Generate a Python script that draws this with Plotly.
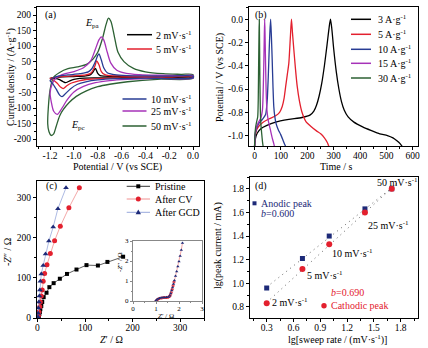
import plotly.graph_objects as go
import numpy as np

W, H = 428, 348
FONT = "Liberation Serif"

# ---------------- (a) cyclic voltammetry ----------------
CV2_V = [-1.20, -1.15, -1.10, -1.00, -0.90, -0.86, -0.84, -0.82, -0.80, -0.78, -0.74, -0.60, -0.40, -0.20, 0.00,
         0.00, -0.40, -0.80, -0.95, -1.00, -1.03, -1.05, -1.07, -1.09, -1.12, -1.16, -1.20]
CV2_I = [-3, -1, 1, 2, 4, 8, 16, 28, 12, 5, 3, 2, 1.5, 1.2, 1,
         -1, -1.5, -2.5, -4, -7, -11, -15, -18, -15, -8, -4, -3]
CV5_V = [-1.20, -1.15, -1.10, -1.00, -0.90, -0.86, -0.84, -0.82, -0.81, -0.79, -0.77, -0.74, -0.70, -0.60, -0.40, -0.20, 0.00,
         0.00, -0.40, -0.70, -0.85, -0.95, -1.02, -1.06, -1.09, -1.11, -1.14, -1.17, -1.20]
CV5_I = [-5, -1, 2, 4, 7, 12, 22, 40, 52, 40, 18, 8, 5, 3.5, 2.5, 2, 2,
         -1.5, -2, -3, -6, -11, -19, -28, -37, -33, -20, -10, -5]
CV10_V = [-1.20, -1.17, -1.13, -1.05, -0.95, -0.88, -0.85, -0.82, -0.80, -0.79, -0.77, -0.75, -0.72, -0.66, -0.55, -0.40, -0.20, 0.00,
          0.00, -0.40, -0.65, -0.80, -0.90, -0.97, -1.03, -1.07, -1.10, -1.12, -1.15, -1.18, -1.20]
CV10_I = [-12, -2, 3, 7, 11, 17, 27, 50, 70, 75, 55, 30, 14, 8, 5, 4, 3, 3,
          -2, -3, -5, -9, -15, -23, -38, -53, -63, -58, -38, -20, -12]
CV25_V = [-1.20, -1.18, -1.15, -1.10, -1.00, -0.92, -0.86, -0.82, -0.79, -0.77, -0.75, -0.72, -0.69, -0.64, -0.56, -0.45, -0.30, -0.10, 0.00,
          0.00, -0.30, -0.55, -0.70, -0.82, -0.92, -1.00, -1.06, -1.10, -1.14, -1.17, -1.19, -1.20]
CV25_I = [-50, -20, -3, 8, 18, 30, 52, 90, 120, 130, 120, 80, 45, 22, 12, 8, 6, 5, 5,
          -3, -4, -7, -11, -18, -30, -48, -75, -100, -120, -110, -80, -50]
CV50_V = [-1.22, -1.20, -1.17, -1.12, -1.05, -0.97, -0.89, -0.84, -0.80, -0.76, -0.73, -0.71, -0.69, -0.66, -0.63, -0.58, -0.50, -0.40, -0.25, -0.10, 0.00,
          0.00, -0.30, -0.55, -0.70, -0.80, -0.90, -0.98, -1.04, -1.09, -1.12, -1.15, -1.17, -1.19, -1.21, -1.22]
CV50_I = [-150, -40, 0, 15, 27, 33, 42, 58, 80, 125, 170, 190, 180, 130, 80, 50, 28, 17, 11, 9, 8,
          -4, -7, -15, -23, -31, -45, -62, -82, -105, -125, -160, -183, -188, -175, -150]
CV_LABELS = ["2 mV·s<sup>-1</sup>", "5 mV·s<sup>-1</sup>", "10 mV·s<sup>-1</sup>",
             "25 mV·s<sup>-1</sup>", "50 mV·s<sup>-1</sup>"]
A_XTICKS = [-1.2, -1.0, -0.8, -0.6, -0.4, -0.2, 0.0]
A_XTEXT = ["-1.2", "-1.0", "-0.8", "-0.6", "-0.4", "-0.2", "0.0"]
A_YTICKS = [-200, -150, -100, -50, 0, 50, 100, 150, 200]
A_YTEXT = ["-200", "-150", "-100", "-50", "0", "50", "100", "150", "200"]

# ---------------- (b) galvanostatic charge/discharge ----------------
GCD3_T = [0, 3, 10, 25, 45, 80, 130, 180, 210, 225, 235, 245, 255, 265, 275, 283, 288, 293, 300, 310, 320, 330, 340,
          355, 377, 410, 441, 475, 504, 525, 540, 552, 562]
GCD3_V = [-1.10, -1.03, -0.98, -0.94, -0.915, -0.885, -0.862, -0.845, -0.825, -0.79, -0.74, -0.66, -0.55, -0.40, -0.22,
          -0.07, 0.00, -0.08, -0.25, -0.45, -0.60, -0.71, -0.78, -0.84, -0.885, -0.925, -0.955, -0.985, -1.00, -1.02,
          -1.045, -1.07, -1.10]
GCD5_T = [0, 3, 8, 16, 30, 54, 80, 95, 105, 112, 118, 124, 130, 136, 140, 144, 149, 155, 162, 170, 180, 195, 213,
          235, 251, 265, 276, 283]
GCD5_V = [-1.10, -1.0, -0.95, -0.92, -0.89, -0.858, -0.83, -0.80, -0.75, -0.68, -0.58, -0.48, -0.38, -0.15, 0.00,
          -0.12, -0.26, -0.42, -0.58, -0.70, -0.80, -0.88, -0.92, -0.96, -0.985, -1.02, -1.06, -1.10]
GCD10_T = [0, 2, 6, 15, 30, 42, 48, 52, 55, 58, 61, 64, 67, 70, 73, 77, 82, 90, 99, 108, 115, 119]
GCD10_V = [-1.10, -1.0, -0.95, -0.90, -0.86, -0.82, -0.70, -0.50, -0.30, -0.12, 0.00, -0.15, -0.35, -0.58, -0.75,
           -0.84, -0.90, -0.95, -0.99, -1.04, -1.08, -1.10]
GCD15_T = [0, 2, 6, 14, 24, 30, 33, 35, 37, 38.5, 40, 42, 44, 47, 52, 60, 67, 73, 76]
GCD15_V = [-1.10, -1.0, -0.94, -0.89, -0.85, -0.78, -0.60, -0.40, -0.15, 0.00, -0.15, -0.40, -0.62, -0.78, -0.87,
           -0.95, -1.02, -1.07, -1.10]
GCD30_T = [0, 1.5, 4, 8, 12, 14, 15.5, 17, 18, 19, 20.5, 22, 24, 27, 30, 33]
GCD30_V = [-1.10, -1.0, -0.93, -0.88, -0.84, -0.70, -0.40, -0.12, 0.00, -0.20, -0.55, -0.78, -0.90, -0.98, -1.05, -1.10]
GCD_LABELS = ["3 A·g<sup>-1</sup>", "5 A·g<sup>-1</sup>", "10 A·g<sup>-1</sup>",
              "15 A·g<sup>-1</sup>", "30 A·g<sup>-1</sup>"]
B_XTICKS = [0, 100, 200, 300, 400, 500, 600]
B_XTEXT = ["0", "100", "200", "300", "400", "500", "600"]
B_YTICKS = [-1.0, -0.8, -0.6, -0.4, -0.2, 0.0]
B_YTEXT = ["-1.0", "-0.8", "-0.6", "-0.4", "-0.2", "0.0"]

# ---------------- (c) Nyquist ----------------
PRIS_RE = [2, 3, 4, 5, 6, 8, 10, 13, 19, 25, 34, 47, 62, 82, 103, 127, 147, 180]
PRIS_IM = [2, 5, 10, 15, 22, 30, 40, 52, 63, 77, 87, 98, 110, 121, 132, 131, 140, 153]
CV_RE = [1, 2, 3, 5, 6, 8, 10, 12, 15, 20, 27, 36, 48, 66, 88]
CV_IM = [1, 6, 15, 28, 40, 55, 70, 92, 111, 133, 161, 193, 229, 275, 325]
GCD_RE = [1, 1.5, 2, 3, 4, 5, 6, 8, 12, 17, 24, 33, 43, 60]
GCD_IM = [3, 12, 25, 40, 55, 70, 92, 110, 131, 160, 192, 227, 273, 325]
EIS_LABELS = ["Pristine", "After CV", "After GCD"]
C_TICKS = [0, 100, 200, 300]
C_TEXT = ["0", "100", "200", "300"]
# inset (high-frequency region)
INS_CV_RE = [1.00, 1.06, 1.14, 1.24, 1.34, 1.44, 1.52, 1.58, 1.62, 1.66, 1.70, 1.74, 1.78]
INS_CV_IM = [0.00, 0.07, 0.12, 0.15, 0.17, 0.18, 0.19, 0.22, 0.30, 0.42, 0.58, 0.76, 0.95]
INS_GCD_RE = [0.98, 1.02, 1.08, 1.15, 1.22, 1.30, 1.38, 1.46, 1.54, 1.60, 1.64, 1.68, 1.72, 1.76, 1.80, 1.85,
              1.90, 1.95, 2.00, 2.05, 2.10, 2.15]
INS_GCD_IM = [0.00, 0.05, 0.10, 0.14, 0.16, 0.17, 0.18, 0.19, 0.20, 0.26, 0.38, 0.52, 0.68, 0.85, 1.02, 1.25,
              1.48, 1.72, 1.97, 2.25, 2.55, 2.90]
INS_TICKS = [0, 1, 2, 3]
INS_TEXT = ["0", "1", "2", "3"]

# ---------------- (d) b-value ----------------
LG_RATE = [0.30, 0.70, 1.00, 1.40, 1.70]
LG_IPA = [0.96, 1.21, 1.40, 1.63, 1.80]
LG_IPC = [0.83, 1.12, 1.33, 1.60, 1.80]
RATE_LABELS = ["2 mV·s<sup>-1</sup>", "5 mV·s<sup>-1</sup>", "10 mV·s<sup>-1</sup>",
               "25 mV·s<sup>-1</sup>", "50 mV·s<sup>-1</sup>"]
D_XTICKS = [0.3, 0.6, 0.9, 1.2, 1.5, 1.8]
D_XTEXT = ["0.3", "0.6", "0.9", "1.2", "1.5", "1.8"]
D_YTICKS = [0.8, 1.0, 1.2, 1.4, 1.6, 1.8]
D_YTEXT = ["0.8", "1.0", "1.2", "1.4", "1.6", "1.8"]

# ---------------- styling ----------------
C_BLACK = "#000000"
C_RED = "#e3202e"
C_BLUE = "#283c94"
C_PURPLE = "#a632b8"
C_GREEN = "#2c6133"
C_NAVY = "#1d2a78"


def px(x):
    return x / W


def py(y):
    return 1 - y / H


def axis(dom, rng, tv, tt, mdt, m0, anchor, fs=9.5, lc="black", tl=3, so=0):
    return dict(domain=dom, range=rng, anchor=anchor, tickmode="array", tickvals=tv, ticktext=tt,
                ticks="outside", ticklen=tl, tickwidth=1, tickcolor=lc, showline=True, linecolor=lc,
                linewidth=1, mirror=True, showgrid=False, zeroline=False, fixedrange=True, automargin=False,
                ticklabelstandoff=so,
                tickfont=dict(family=FONT, size=fs, color="black"),
                minor=dict(tickmode="linear", tick0=m0, dtick=mdt, ticks="outside", ticklen=max(tl - 1, 1),
                           tickwidth=1, tickcolor=lc, showgrid=False))


fig = go.Figure()

# (a)
cv_sets = [(CV50_V, CV50_I, C_GREEN), (CV2_V, CV2_I, C_BLACK), (CV5_V, CV5_I, C_RED),
           (CV25_V, CV25_I, C_PURPLE), (CV10_V, CV10_I, C_BLUE)]
for v, i, c in cv_sets:
    fig.add_trace(go.Scatter(x=v, y=i, mode="lines", line=dict(color=c, width=1.3, shape="spline", smoothing=0.8),
                             xaxis="x", yaxis="y", hoverinfo="skip"))

# (b)
gcd_sets = [(GCD3_T, GCD3_V, C_BLACK), (GCD5_T, GCD5_V, C_RED), (GCD10_T, GCD10_V, C_BLUE),
            (GCD15_T, GCD15_V, C_PURPLE), (GCD30_T, GCD30_V, C_GREEN)]
for t, v, c in gcd_sets:
    fig.add_trace(go.Scatter(x=t, y=v, mode="lines", line=dict(color=c, width=1.3, shape="spline", smoothing=0.6),
                             xaxis="x2", yaxis="y2", hoverinfo="skip"))

# (c)
fig.add_trace(go.Scatter(x=PRIS_RE, y=PRIS_IM, mode="lines+markers", line=dict(color="#333333", width=0.8),
                         marker=dict(symbol="square", size=4, color="black"), xaxis="x3", yaxis="y3"))
fig.add_trace(go.Scatter(x=CV_RE, y=CV_IM, mode="lines+markers", line=dict(color="#f09090", width=0.8),
                         marker=dict(symbol="circle", size=5, color=C_RED), xaxis="x3", yaxis="y3"))
fig.add_trace(go.Scatter(x=GCD_RE, y=GCD_IM, mode="lines+markers", line=dict(color="#98a8dc", width=0.8),
                         marker=dict(symbol="triangle-up", size=5, color=C_NAVY), xaxis="x3", yaxis="y3"))
# inset
fig.add_trace(go.Scatter(x=INS_CV_RE, y=INS_CV_IM, mode="lines+markers", line=dict(color="#f09090", width=0.8),
                         marker=dict(symbol="circle", size=3, color=C_RED), xaxis="x4", yaxis="y4"))
fig.add_trace(go.Scatter(x=INS_GCD_RE, y=INS_GCD_IM, mode="lines+markers", line=dict(color="#f09090", width=0.8),
                         marker=dict(symbol="triangle-up", size=3, color=C_NAVY), xaxis="x4", yaxis="y4"))

# (d)
for yv, c in [(LG_IPA, "#666666"), (LG_IPC, "#666666")]:
    b, a = np.polyfit(LG_RATE, yv, 1)
    xf = np.array([min(LG_RATE), max(LG_RATE) + 0.08])
    fig.add_trace(go.Scatter(x=xf, y=a + b * xf, mode="lines", line=dict(color=c, width=1, dash="1px,4px"),
                             xaxis="x5", yaxis="y5", hoverinfo="skip"))
fig.add_trace(go.Scatter(x=LG_RATE, y=LG_IPA, mode="markers", marker=dict(symbol="square", size=5, color=C_NAVY),
                         xaxis="x5", yaxis="y5"))
fig.add_trace(go.Scatter(x=LG_RATE, y=LG_IPC, mode="markers", marker=dict(symbol="circle", size=6, color=C_RED),
                         xaxis="x5", yaxis="y5"))

fig.update_layout(
    width=W, height=H, autosize=False, margin=dict(l=0, r=0, t=0, b=0, autoexpand=False),
    paper_bgcolor="white", plot_bgcolor="white", showlegend=False,
    font=dict(family=FONT, size=10, color="black"),
    xaxis=axis([px(37), px(199)], [-1.31, 0.05], A_XTICKS, A_XTEXT, 0.1, -1.3, "y", so=-2),
    yaxis=axis([py(146), py(7)], [-222, 226], A_YTICKS, A_YTEXT, 25, 0, "x"),
    xaxis2=axis([px(249), px(418)], [-21, 620], B_XTICKS, B_XTEXT, 50, 0, "y2", so=-2),
    yaxis2=axis([py(146), py(7)], [-1.09, 0.105], B_YTICKS, B_YTEXT, 0.1, 0, "x2"),
    xaxis3=axis([px(37), px(204)], [-1, 350], C_TICKS, C_TEXT, 50, 0, "y3", so=-2),
    yaxis3=axis([py(318), py(181)], [0, 342], C_TICKS, C_TEXT, 50, 0, "x3"),
    xaxis4=axis([px(133), px(202)], [0, 3], INS_TICKS, INS_TEXT, 0.5, 0, "y4", fs=7, lc="#888888", tl=2, so=-1),
    yaxis4=axis([py(301), py(241)], [0, 3], INS_TICKS, INS_TEXT, 0.5, 0, "x4", fs=7, lc="#888888", tl=2),
    xaxis5=axis([px(250), px(418)], [0.113, 1.994], D_XTICKS, D_XTEXT, 0.15, 0, "y5", so=-2),
    yaxis5=axis([py(318), py(177)], [0.706, 1.90], D_YTICKS, D_YTEXT, 0.1, 0, "x5"),
)


def note(text, x, y, xa="left", size=10, color="black", angle=0):
    fig.add_annotation(text=text, x=px(x), y=py(y), xref="paper", yref="paper", xanchor=xa, yanchor="middle",
                       showarrow=False, textangle=angle, borderpad=0,
                       font=dict(family=FONT, size=size, color=color))


def seg(x0, x1, y, color, width=1.5):
    fig.add_shape(type="line", xref="paper", yref="paper", x0=px(x0), x1=px(x1), y0=py(y), y1=py(y),
                  line=dict(color=color, width=width))


# ---- panel (a) text ----
note("(a)", 44, 15)
note("<i>E</i><sub>pa</sub>", 84, 23)
note("<i>E</i><sub>pc</sub>", 70, 126)
note("Potential / V (vs SCE)", 118, 167, xa="center")
note("Current density / (A·g<sup>-1</sup>)", 10, 77, xa="center", angle=-90)
for lab, c, y in [(CV_LABELS[0], C_BLACK, 34.7), (CV_LABELS[1], C_RED, 49)]:
    seg(127, 152, y, c)
    note(lab, 155, y)
for lab, c, y in [(CV_LABELS[2], C_BLUE, 99), (CV_LABELS[3], C_PURPLE, 111), (CV_LABELS[4], C_GREEN, 126)]:
    seg(122.5, 146.5, y, c)
    note(lab, 150, y)

# ---- panel (b) text ----
note("(b)", 254, 15)
note("Time / s", 336, 167, xa="center")
note("Potential / V (vs SCE)", 220, 77, xa="center", angle=-90)
for lab, c, y in zip(GCD_LABELS, [C_BLACK, C_RED, C_BLUE, C_PURPLE, C_GREEN], [19.3, 34.3, 49.3, 63.3, 78]):
    seg(351, 371, y, c)
    note(lab, 377, y)

# ---- panel (c) text ----
note("(c)", 45, 186)
note("<i>Z</i>′ / Ω", 112, 339, xa="center")
note("-<i>Z</i>″ / Ω", 7, 252, xa="center", angle=-90)
note("<i>Z</i>′ / Ω", 166, 315.5, xa="center", size=7)
note("-<i>Z</i>″ / Ω", 120, 262, xa="center", size=7, angle=-90)
leg_c = [(EIS_LABELS[0], "#333333", "black", "sq", 186.3),
         (EIS_LABELS[1], "#f09090", C_RED, "ci", 199),
         (EIS_LABELS[2], "#98a8dc", C_NAVY, "tr", 212.3)]
for lab, lc, mc, sym, y in leg_c:
    seg(126.7, 150, y, lc, 1)
    cx = 138.3
    if sym == "sq":
        fig.add_shape(type="rect", xref="paper", yref="paper", x0=px(cx - 2), x1=px(cx + 2), y0=py(y + 2),
                      y1=py(y - 2), fillcolor=mc, line=dict(width=0))
    elif sym == "ci":
        fig.add_shape(type="circle", xref="paper", yref="paper", x0=px(cx - 2.5), x1=px(cx + 2.5), y0=py(y + 2.5),
                      y1=py(y - 2.5), fillcolor=mc, line=dict(width=0))
    else:
        fig.add_shape(type="path", xref="paper", yref="paper",
                      path=f"M {px(cx-2.7)},{py(y+2)} L {px(cx+2.7)},{py(y+2)} L {px(cx)},{py(y-2.8)} Z",
                      fillcolor=mc, line=dict(width=0))
    note(lab, 154, y)

# ---- panel (d) text ----
note("(d)", 254, 186)
note("lg[sweep rate / (mV·s<sup>-1</sup>)]", 337, 339, xa="center")
note("lg(peak current / mA)", 218, 246, xa="center", angle=-90)
fig.add_shape(type="rect", xref="paper", yref="paper", x0=px(252.5), x1=px(256.5), y0=py(205.3), y1=py(201.3),
              fillcolor=C_NAVY, line=dict(width=0))
note("Anodic peak", 260, 203, color=C_NAVY)
note("<i>b</i>=0.600", 260, 213.5, color=C_NAVY)
note("<i>b</i>=0.690", 330, 292.5, color=C_RED)
fig.add_shape(type="circle", xref="paper", yref="paper", x0=px(321.3), x1=px(326.7), y0=py(308.4), y1=py(303),
              fillcolor=C_RED, line=dict(width=0))
note("Cathodic peak", 329.5, 305.5, color=C_RED)
for lab, x, y in zip(RATE_LABELS, [271, 305.5, 330.5, 367, 375.5], [301.7, 275.3, 253.3, 225, 182.3]):
    note(lab, x, y)

fig.write_html("out.html", config={"displayModeBar": False, "staticPlot": True},
               post_script="document.body.style.margin='0px';")
